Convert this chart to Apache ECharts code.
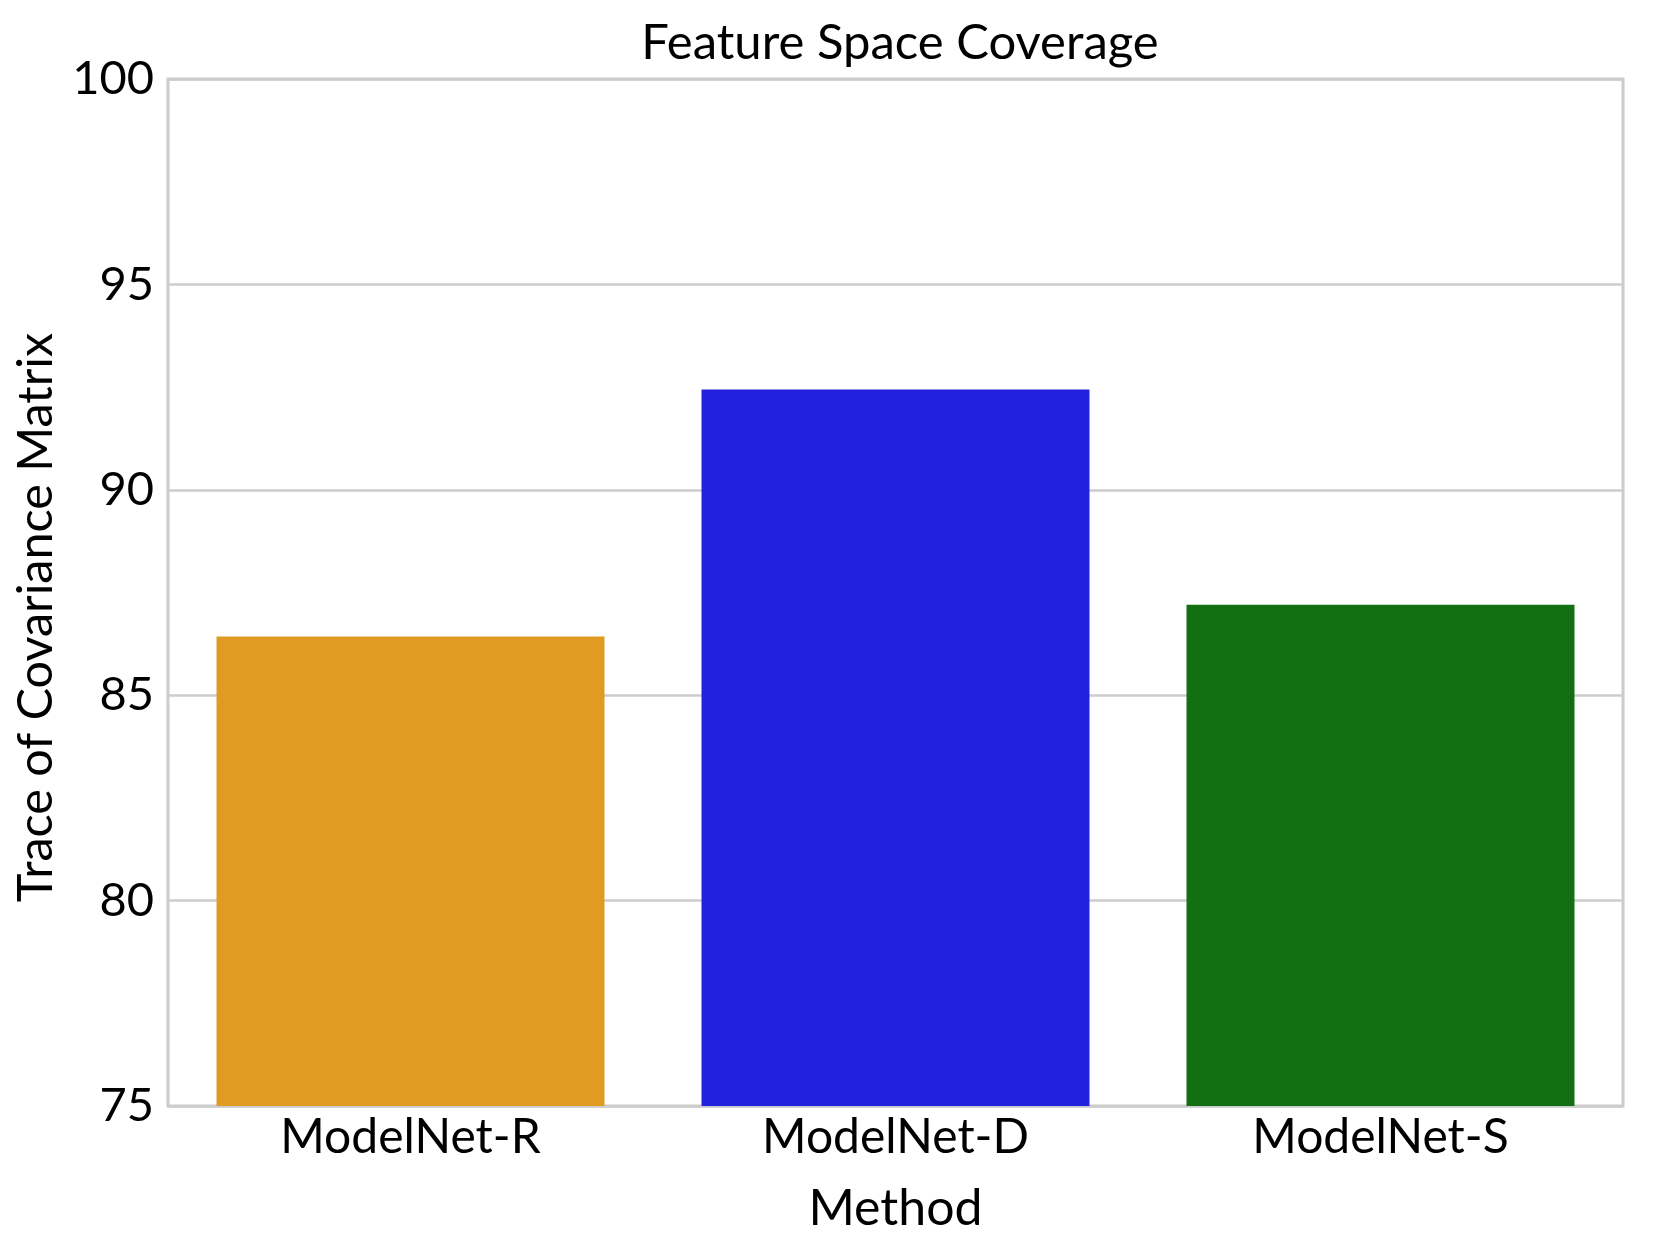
<!DOCTYPE html>
<html>
<head>
<meta charset="utf-8">
<script src="https://cdn.jsdelivr.net/npm/echarts@6/dist/echarts.min.js"></script>
<style>
html,body{margin:0;padding:0;background:#fff;}
#chart{width:1661px;height:1246px;}
</style>
</head>
<body>
<div id="chart"></div>
<script>
const categories = ['ModelNet-R', 'ModelNet-D', 'ModelNet-S'];
const values = [86.43, 92.44, 87.2];
const barColors = ['#E09C22', '#2222DE', '#127012'];
const yTicks = [75, 80, 85, 90, 95, 100];

const FONT = 'Lato';
const chart = echarts.init(document.getElementById('chart'), null, {renderer: 'canvas'});
chart.setOption({
  backgroundColor: '#fff',
  animation: false,
  title: {
    text: 'Feature Space Coverage',
    left: 895,
    textAlign: 'center',
    top: 14,
    textStyle: {fontFamily: FONT, fontWeight: 'normal', fontSize: 49, color: '#000'}
  },
  grid: {
    left: 168, right: 38, top: 79, bottom: 140,
    show: true, borderColor: '#cccccc', borderWidth: 3, backgroundColor: '#fff',
    containLabel: false,
    outerBoundsMode: 'none'
  },
  xAxis: {
    type: 'category',
    data: categories,
    name: 'Method',
    nameLocation: 'middle',
    nameGap: 78,
    nameTextStyle: {fontFamily: FONT, fontSize: 50, color: '#000'},
    axisLine: {show: false},
    axisTick: {show: false},
    axisLabel: {fontFamily: FONT, fontSize: 48, color: '#000', margin: 8}
  },
  yAxis: {
    type: 'value',
    min: yTicks[0],
    max: yTicks[yTicks.length - 1],
    interval: 5,
    name: 'Trace of Covariance Matrix',
    nameLocation: 'middle',
    nameGap: 103,
    nameTextStyle: {fontFamily: FONT, fontSize: 48.5, color: '#000', padding: [0, 50, 0, 0]},
    axisLine: {show: false},
    axisTick: {show: false},
    axisLabel: {fontFamily: FONT, fontSize: 47, color: '#000', margin: 14},
    splitLine: {show: true, lineStyle: {color: '#cccccc', width: 2.5}}
  },
  series: [{
    type: 'bar',
    data: values.map((v, i) => ({value: v, itemStyle: {color: barColors[i]}})),
    barWidth: '80%'
  }]
});
</script>
</body>
</html>
